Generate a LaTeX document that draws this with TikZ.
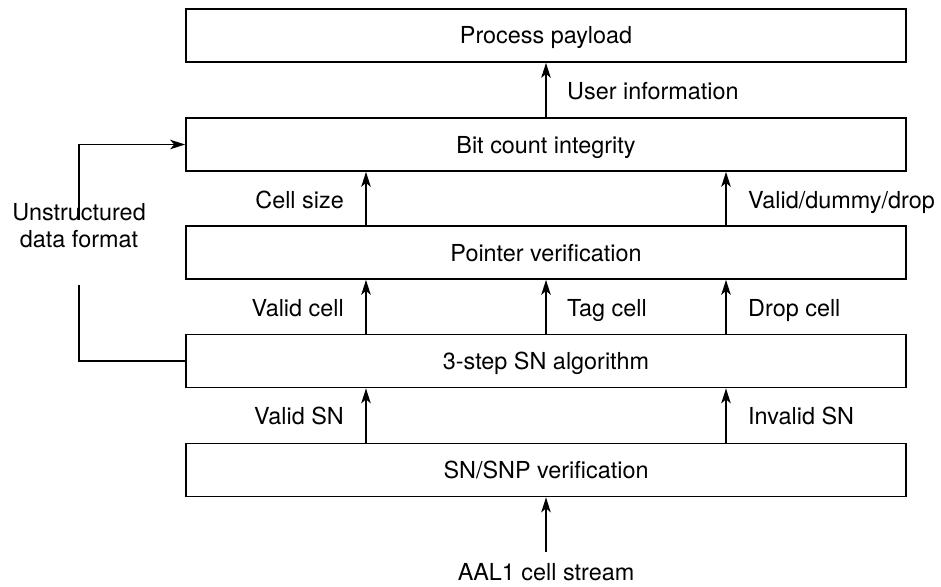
\documentclass[tikz,border=0pt]{standalone}
\usepackage{fontspec}
\setmainfont{TeX Gyre Heros}
\usetikzlibrary{arrows.meta}
\begin{document}
\begin{tikzpicture}[x=1pt,y=-1pt,
  every node/.style={font=\fontsize{23.4}{27}\selectfont, inner sep=0pt},
  blk/.style={draw, line width=1.7pt, minimum width=720pt, minimum height=53pt, text height=17pt, text depth=0pt},
  arr/.style={line width=1.6pt, -{Stealth[length=15pt,width=9.5pt,inset=4pt]}},
  ln/.style={line width=1.6pt}]
\useasboundingbox (0,0) rectangle (941,586);
\node[blk] (pp) at (546,35.5) {Process payload};
\node[blk] (bc) at (546,144.5) {Bit count integrity};
\node[blk] (pv) at (546,252.5) {Pointer verification};
\node[blk] (sn) at (546,361) {3-step SN algorithm};
\node[blk] (sv) at (546,470) {SN/SNP verification};
\coordinate (in) at (546,552);
\node[anchor=base] (aal) at (546,580) {AAL1 cell stream};
% arrows
\draw[arr] (bc.north) -- (pp.south);
\draw[arr] (pv.north -| 366,0) -- (bc.south -| 366,0);
\draw[arr] (pv.north -| 726,0) -- (bc.south -| 726,0);
\draw[arr] (sn.north -| 366,0) -- (pv.south -| 366,0);
\draw[arr] (sn.north) -- (pv.south);
\draw[arr] (sn.north -| 726,0) -- (pv.south -| 726,0);
\draw[arr] (sv.north -| 366,0) -- (sn.south -| 366,0);
\draw[arr] (sv.north -| 726,0) -- (sn.south -| 726,0);
\draw[arr] (in) -- (sv.south);
% labels
\node[anchor=base west] (l1) at (567,99) {User information};
\node[anchor=base east] (l2) at (344,208) {Cell size};
\node[anchor=base west] (l3) at (748,208) {Valid/dummy/drop};
\node[anchor=base east] (l4) at (344,316) {Valid cell};
\node[anchor=base west] (l5) at (567,316) {Tag cell};
\node[anchor=base west] (l6) at (748,316) {Drop cell};
\node[anchor=base east] (l7) at (344,424) {Valid SN};
\node[anchor=base west] (l8) at (748,424) {Invalid SN};
% feedback
\node[align=center, anchor=base] (uf) at (79,247) {Unstructured\\data format};
\coordinate (fb1) at (79,361);
\coordinate (fb2) at (79,144.5);
\draw[ln] (sn.west) -- (fb1) -- (79,285);
\draw[arr] (79,220) -- (fb2) -- (bc.west);
\end{tikzpicture}
\end{document}
